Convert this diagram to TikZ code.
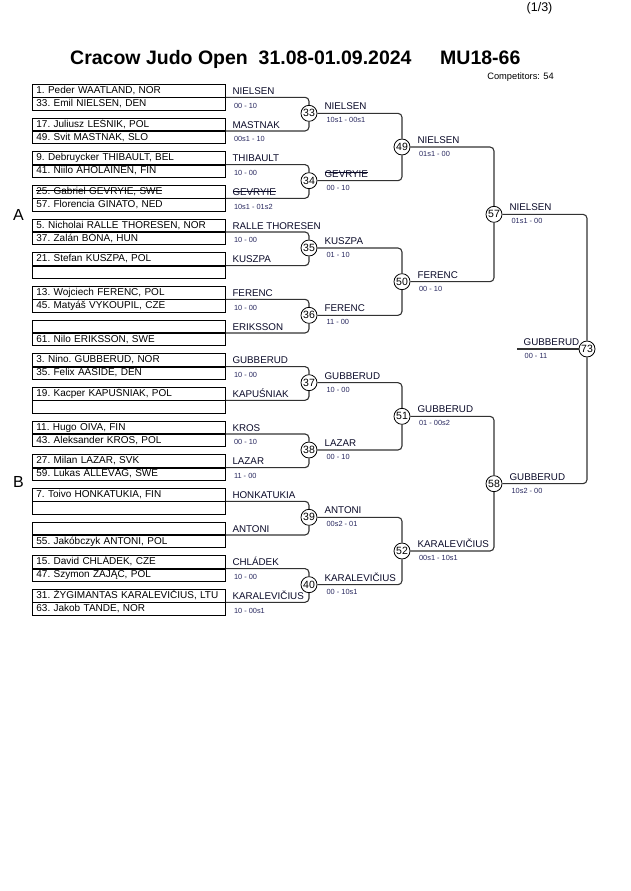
\documentclass[tikz,border=0pt]{standalone}
\usepackage{fontspec}
\setmainfont{Liberation Sans}
\usetikzlibrary{positioning}
\definecolor{namecol}{RGB}{10,10,40}
\definecolor{scorecol}{RGB}{40,40,95}
\definecolor{linecol}{RGB}{50,50,50}
\newcommand{\struckout}[1]{\setbox0\hbox{#1}\rlap{\copy0}\rule[3.9pt]{\wd0}{0.7pt}}

\begin{document}
\begin{tikzpicture}[x=1pt,y=-1pt,
  player/.style={draw=black,line width=0.8pt,rectangle,inner xsep=4pt,inner ysep=0pt,text width=185pt,minimum height=12.5pt,text height=7.6pt,text depth=2.2pt,align=left,font=\fontsize{10}{12}\selectfont\frenchspacing},
  winner/.style={inner sep=0pt,text height=7.4pt,text depth=0pt,text=namecol,font=\fontsize{9.8}{12}\selectfont},
  score/.style={inner sep=0pt,text height=5.4pt,text depth=0pt,text=scorecol,font=\fontsize{7.4}{9}\selectfont},
  bout/.style={circle,draw=black,line width=0.8pt,fill=white,minimum size=16pt,inner sep=0pt,font=\fontsize{10.5}{12}\selectfont},
  tree/.style={draw=linecol,line width=1.1pt,rounded corners=4pt}]
  \useasboundingbox (0,0) rectangle (630,891);

  % header
  \node[anchor=base west,inner sep=0pt,font=\fontsize{12.5}{14}\selectfont] (page) at (526.5,11.5) {(1/3)};
  \node[anchor=base west,inner sep=0pt,font=\bfseries\fontsize{19.5}{22}\selectfont] (title) at (70,64.5) {Cracow Judo Open\ \ 31.08-01.09.2024};
  \node[anchor=base west,inner sep=0pt,font=\bfseries\fontsize{19.5}{22}\selectfont] (cat) at (440,64.5) {MU18-66};
  \node[anchor=base east,inner sep=0pt,font=\fontsize{9.3}{11}\selectfont] (count) at (554,79) {Competitors: 54};
  \node[anchor=base west,inner sep=0pt,font=\fontsize{16}{18}\selectfont] (poolA) at (13,220) {A};
  \node[anchor=base west,inner sep=0pt,font=\fontsize{16}{18}\selectfont] (poolB) at (13,487) {B};

  % first round
  \node[player,anchor=north west] (p1a) at (32,84) {1. Peder WAATLAND, NOR};
  \node[player,below=0pt of p1a] (p1b) {33. Emil NIELSEN, DEN};
  \node[player,anchor=north west] (p2a) at (32,117.67) {17. Juliusz LEŚNIK, POL};
  \node[player,below=0pt of p2a] (p2b) {49. Svit MASTNAK, SLO};
  \node[player,anchor=north west] (p3a) at (32,151.33) {9. Debruycker THIBAULT, BEL};
  \node[player,below=0pt of p3a] (p3b) {41. Niilo AHOLAINEN, FIN};
  \node[player,anchor=north west] (p4a) at (32,185) {\struckout{25. Gabriel GEVRYIE, SWE}};
  \node[player,below=0pt of p4a] (p4b) {57. Florencia GINATO, NED};
  \node[player,anchor=north west] (p5a) at (32,218.67) {5. Nicholai RALLE THORESEN, NOR};
  \node[player,below=0pt of p5a] (p5b) {37. Zalán BÓNA, HUN};
  \node[player,anchor=north west] (p6a) at (32,252.33) {21. Stefan KUSZPA, POL};
  \node[player,below=0pt of p6a] (p6b) {};
  \node[player,anchor=north west] (p7a) at (32,286) {13. Wojciech FERENC, POL};
  \node[player,below=0pt of p7a] (p7b) {45. Matyáš VYKOUPIL, CZE};
  \node[player,anchor=north west] (p8a) at (32,319.67) {};
  \node[player,below=0pt of p8a] (p8b) {61. Nilo ERIKSSON, SWE};
  \node[player,anchor=north west] (p9a) at (32,353.33) {3. Nino. GUBBERUD, NOR};
  \node[player,below=0pt of p9a] (p9b) {35. Felix AASIDE, DEN};
  \node[player,anchor=north west] (p10a) at (32,387) {19. Kacper KAPUŚNIAK, POL};
  \node[player,below=0pt of p10a] (p10b) {};
  \node[player,anchor=north west] (p11a) at (32,420.67) {11. Hugo OIVA, FIN};
  \node[player,below=0pt of p11a] (p11b) {43. Aleksander KROS, POL};
  \node[player,anchor=north west] (p12a) at (32,454.33) {27. Milan LAZAR, SVK};
  \node[player,below=0pt of p12a] (p12b) {59. Lukas ALLEVÅG, SWE};
  \node[player,anchor=north west] (p13a) at (32,488) {7. Toivo HONKATUKIA, FIN};
  \node[player,below=0pt of p13a] (p13b) {};
  \node[player,anchor=north west] (p14a) at (32,521.67) {};
  \node[player,below=0pt of p14a] (p14b) {55. Jakóbczyk ANTONI, POL};
  \node[player,anchor=north west] (p15a) at (32,555.33) {15. David CHLÁDEK, CZE};
  \node[player,below=0pt of p15a] (p15b) {47. Szymon ZAJĄC, POL};
  \node[player,anchor=north west] (p16a) at (32,589) {31. ŽYGIMANTAS KARALEVIČIUS, LTU};
  \node[player,below=0pt of p16a] (p16b) {63. Jakob TANDE, NOR};

  \node[winner,right=6.5pt of p1a] (w1) {NIELSEN};
  \node[winner,right=6.5pt of p2a] (w2) {MASTNAK};
  \node[winner,right=6.5pt of p3a] (w3) {THIBAULT};
  \node[winner,right=6.5pt of p4a] (w4) {\struckout{GEVRYIE}};
  \node[winner,right=6.5pt of p5a] (w5) {RALLE THORESEN};
  \node[winner,right=6.5pt of p6a] (w6) {KUSZPA};
  \node[winner,right=6.5pt of p7a] (w7) {FERENC};
  \node[winner,right=6.5pt of p8a] (w8) {ERIKSSON};
  \node[winner,right=6.5pt of p9a] (w9) {GUBBERUD};
  \node[winner,right=6.5pt of p10a] (w10) {KAPUŚNIAK};
  \node[winner,right=6.5pt of p11a] (w11) {KROS};
  \node[winner,right=6.5pt of p12a] (w12) {LAZAR};
  \node[winner,right=6.5pt of p13a] (w13) {HONKATUKIA};
  \node[winner,right=6.5pt of p14a] (w14) {ANTONI};
  \node[winner,right=6.5pt of p15a] (w15) {CHLÁDEK};
  \node[winner,right=6.5pt of p16a] (w16) {KARALEVIČIUS};

  \node[score,above right=2.3pt and 8pt of p1b.south east] (s1) {00 - 10};
  \node[score,above right=2.3pt and 8pt of p2b.south east] (s2) {00s1 - 10};
  \node[score,above right=2.3pt and 8pt of p3b.south east] (s3) {10 - 00};
  \node[score,above right=2.3pt and 8pt of p4b.south east] (s4) {10s1 - 01s2};
  \node[score,above right=2.3pt and 8pt of p5b.south east] (s5) {10 - 00};
  \node[score,above right=2.3pt and 8pt of p7b.south east] (s7) {10 - 00};
  \node[score,above right=2.3pt and 8pt of p9b.south east] (s9) {10 - 00};
  \node[score,above right=2.3pt and 8pt of p11b.south east] (s11) {00 - 10};
  \node[score,above right=2.3pt and 8pt of p12b.south east] (s12) {11 - 00};
  \node[score,above right=2.3pt and 8pt of p15b.south east] (s15) {10 - 00};
  \node[score,above right=2.3pt and 8pt of p16b.south east] (s16) {10 - 00s1};

  % contests
  \node[bout] (b33) at (309,113.33) {33};
  \node[bout] (b34) at (309,180.67) {34};
  \node[bout] (b35) at (309,248) {35};
  \node[bout] (b36) at (309,315.33) {36};
  \node[bout] (b37) at (309,382.67) {37};
  \node[bout] (b38) at (309,450) {38};
  \node[bout] (b39) at (309,517.33) {39};
  \node[bout] (b40) at (309,584.67) {40};
  \node[bout] (b49) at (402,147) {49};
  \node[bout] (b50) at (402,281.67) {50};
  \node[bout] (b51) at (402,416.33) {51};
  \node[bout] (b52) at (402,551) {52};
  \node[bout] (b57) at (494,214.33) {57};
  \node[bout] (b58) at (494,483.67) {58};
  \node[bout] (b73) at (587,349) {73};
  \coordinate (fin) at (517,349);

  \draw[tree] (p1a.south east) -| (b33);
  \draw[tree] (p2a.south east) -| (b33);
  \draw[tree] (p3a.south east) -| (b34);
  \draw[tree] (p4a.south east) -| (b34);
  \draw[tree] (p5a.south east) -| (b35);
  \draw[tree] (p6a.south east) -| (b35);
  \draw[tree] (p7a.south east) -| (b36);
  \draw[tree] (p8a.south east) -| (b36);
  \draw[tree] (p9a.south east) -| (b37);
  \draw[tree] (p10a.south east) -| (b37);
  \draw[tree] (p11a.south east) -| (b38);
  \draw[tree] (p12a.south east) -| (b38);
  \draw[tree] (p13a.south east) -| (b39);
  \draw[tree] (p14a.south east) -| (b39);
  \draw[tree] (p15a.south east) -| (b40);
  \draw[tree] (p16a.south east) -| (b40);
  \draw[tree] (b33) -| (b49);
  \draw[tree] (b34) -| (b49);
  \draw[tree] (b35) -| (b50);
  \draw[tree] (b36) -| (b50);
  \draw[tree] (b37) -| (b51);
  \draw[tree] (b38) -| (b51);
  \draw[tree] (b39) -| (b52);
  \draw[tree] (b40) -| (b52);
  \draw[tree] (b49) -| (b57);
  \draw[tree] (b50) -| (b57);
  \draw[tree] (b51) -| (b58);
  \draw[tree] (b52) -| (b58);
  \draw[tree] (b57) -| (b73);
  \draw[tree] (b58) -| (b73);
  \draw[tree] (fin) -- (b73);

  % later rounds
  \node[winner,above right=3.4pt and 7pt of b33.east] (w33) {NIELSEN};
  \node[score,below right=3.9pt and 9pt of b33.east] (s33) {10s1 - 00s1};
  \node[winner,above right=3.4pt and 7pt of b34.east] (w34) {\struckout{GEVRYIE}};
  \node[score,below right=3.9pt and 9pt of b34.east] (s34) {00 - 10};
  \node[winner,above right=3.4pt and 7pt of b35.east] (w35) {KUSZPA};
  \node[score,below right=3.9pt and 9pt of b35.east] (s35) {01 - 10};
  \node[winner,above right=3.4pt and 7pt of b36.east] (w36) {FERENC};
  \node[score,below right=3.9pt and 9pt of b36.east] (s36) {11 - 00};
  \node[winner,above right=3.4pt and 7pt of b37.east] (w37) {GUBBERUD};
  \node[score,below right=3.9pt and 9pt of b37.east] (s37) {10 - 00};
  \node[winner,above right=3.4pt and 7pt of b38.east] (w38) {LAZAR};
  \node[score,below right=3.9pt and 9pt of b38.east] (s38) {00 - 10};
  \node[winner,above right=3.4pt and 7pt of b39.east] (w39) {ANTONI};
  \node[score,below right=3.9pt and 9pt of b39.east] (s39) {00s2 - 01};
  \node[winner,above right=3.4pt and 7pt of b40.east] (w40) {KARALEVIČIUS};
  \node[score,below right=3.9pt and 9pt of b40.east] (s40) {00 - 10s1};
  \node[winner,above right=3.4pt and 7pt of b49.east] (w49) {NIELSEN};
  \node[score,below right=3.9pt and 8.5pt of b49.east] (s49) {01s1 - 00};
  \node[winner,above right=3.4pt and 7pt of b50.east] (w50) {FERENC};
  \node[score,below right=3.9pt and 8.5pt of b50.east] (s50) {00 - 10};
  \node[winner,above right=3.4pt and 7pt of b51.east] (w51) {GUBBERUD};
  \node[score,below right=3.9pt and 8.5pt of b51.east] (s51) {01 - 00s2};
  \node[winner,above right=3.4pt and 7pt of b52.east] (w52) {KARALEVIČIUS};
  \node[score,below right=3.9pt and 8.5pt of b52.east] (s52) {00s1 - 10s1};
  \node[winner,above right=3.4pt and 7pt of b57.east] (w57) {NIELSEN};
  \node[score,below right=3.9pt and 9pt of b57.east] (s57) {01s1 - 00};
  \node[winner,above right=3.4pt and 7pt of b58.east] (w58) {GUBBERUD};
  \node[score,below right=3.9pt and 9pt of b58.east] (s58) {10s2 - 00};
  \node[winner,above right=3.5pt and 6.5pt of fin] (w73) {GUBBERUD};
  \node[score,below right=3.9pt and 7.5pt of fin] (s73) {00 - 11};
\end{tikzpicture}
\end{document}
